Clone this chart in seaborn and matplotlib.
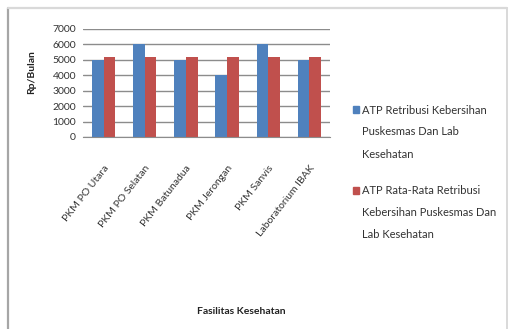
import matplotlib
matplotlib.use("Agg")
import matplotlib.pyplot as plt
import seaborn as sns
import pandas as pd
from matplotlib.patches import Rectangle
from matplotlib.lines import Line2D

categories = ["PKM PO Utara", "PKM PO Selatan", "PKM Batunadua", "PKM Jerongan", "PKM Sanvis", "Laboratorium IBAK"]
atp_values = [5000, 6000, 5000, 4000, 6000, 5000]
avg_values = [5167, 5167, 5167, 5167, 5167, 5167]
series_names = ["ATP Retribusi Kebersihan\nPuskesmas Dan Lab\nKesehatan",
                "ATP Rata-Rata Retribusi\nKebersihan Puskesmas Dan\nLab Kesehatan"]
yticks = [0, 1000, 2000, 3000, 4000, 5000, 6000, 7000]
colors = ["#4F81BD", "#C0504D"]

df = pd.DataFrame({
    "Fasilitas": categories * 2,
    "Nilai": atp_values + avg_values,
    "Seri": [series_names[0]] * len(categories) + [series_names[1]] * len(categories),
})

sns.set_style("white")
plt.rcParams['font.family'] = ['Lato', 'DejaVu Sans']

W, H = 510, 329
fig = plt.figure(figsize=(W / 100, H / 100), dpi=100)
fig.patch.set_facecolor("white")
fig.add_artist(Line2D([8 / W, 8 / W], [0, 1 - 8 / H], transform=fig.transFigure, color="#a6a6a6", lw=1.6))
fig.add_artist(Line2D([8 / W, 507 / W], [1 - 8 / H, 1 - 8 / H], transform=fig.transFigure, color="#d9d9d9", lw=1.6))
fig.add_artist(Line2D([507 / W, 507 / W], [0, 1 - 8 / H], transform=fig.transFigure, color="#d9d9d9", lw=1.4))

ax = fig.add_axes([83 / W, 1 - 137 / H, (330 - 83) / W, (137 - 29) / H])
sns.barplot(data=df, x="Fasilitas", y="Nilai", hue="Seri",
            palette=colors, width=0.57, gap=0, linewidth=0,
            saturation=1, ax=ax, legend=False)
ax.set_ylim(0, 7000)
ax.set_yticks(yticks)
ax.set_yticklabels([str(v) for v in yticks], fontsize=7.5, color="#333333")
ax.yaxis.grid(True, color="#8c8c8c", linewidth=1.0)
ax.set_axisbelow(True)
for s in ["top", "right", "left"]:
    ax.spines[s].set_visible(False)
ax.spines["bottom"].set_color("#8c8c8c")
ax.tick_params(axis="y", length=0, pad=5)
ax.tick_params(axis="x", length=0, pad=19)
ax.set_xticks(range(len(categories)))
ax.set_xticklabels(categories, rotation=52, ha="right", rotation_mode="anchor",
                   fontsize=7.5, color="#333333")
ax.set_xlabel("")
ax.set_ylabel("")

fig.text(32 / W, 1 - 72 / H, "Rp/Bulan", fontsize=7.5, fontweight="bold", rotation=90,
         ha="center", va="center", color="#222222")
fig.text(241 / W, 1 - 312 / H, "Fasilitas Kesehatan", fontsize=7.5, fontweight="bold",
         ha="center", va="center", color="#222222")

leg_x_box = 353 / W
leg_x_txt = 362 / W
line_h = 22 / H
starts = [110, 190]
for name, c, y0 in zip(series_names, colors, starts):
    yf = 1 - y0 / H
    fig.patches.append(Rectangle((leg_x_box, yf - 3.5 / H), 6 / W, 7 / H,
                                 transform=fig.transFigure, color=c))
    for i, line in enumerate(name.split("\n")):
        fig.text(leg_x_txt, yf - i * line_h, line, fontsize=8, ha="left", va="center",
                 color="#333333")

fig.savefig("out.png", dpi=100)
